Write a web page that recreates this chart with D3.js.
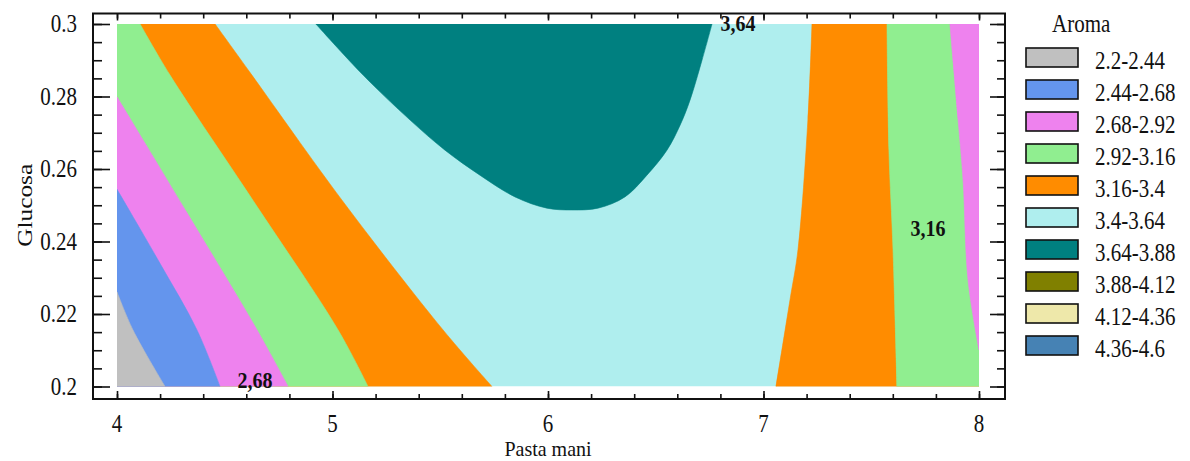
<!DOCTYPE html>
<html><head><meta charset="utf-8">
<script src="https://cdn.jsdelivr.net/npm/d3@7"></script>
<style>body{margin:0;background:#fff}svg{display:block}</style>
</head><body>
<svg id="chart" width="1190" height="461"></svg>
<script>
// ---------- data ----------
const pastaTicks = [4, 5, 6, 7, 8];
const glucosaTicks = [0.2, 0.22, 0.24, 0.26, 0.28, 0.3];
const glucosaTickLabels = ["0.2", "0.22", "0.24", "0.26", "0.28", "0.3"];
const levelLabels = ["2.2-2.44", "2.44-2.68", "2.68-2.92", "2.92-3.16", "3.16-3.4",
  "3.4-3.64", "3.64-3.88", "3.88-4.12", "4.12-4.36", "4.36-4.6"];
const levelColors = ["#c0c0c0", "#6495ed", "#ee82ee", "#90ee90", "#ff8c00",
  "#afeeee", "#008080", "#808000", "#eee8aa", "#4682b4"];

// contour lines: [Pasta mani, Glucosa]
const line244Left = [[4, 0.2261], [4.074, 0.2156], [4.223, 0.2]];
const line268Left = [[4, 0.2544], [4.2, 0.2339], [4.371, 0.2156], [4.478, 0.2]];
const line292Left = [[4, 0.2799], [4.325, 0.2479], [4.650, 0.2156], [4.794, 0.2]];
const line316Left = [[4.107, 0.3], [4.246, 0.2859], [4.636, 0.2509], [5.026, 0.2156], [5.165, 0.2]];
const line340Left = [[4.455, 0.3], [4.626, 0.2859], [5.044, 0.2514], [5.513, 0.2156], [5.740, 0.2]];
const line340Right = [[7.225, 0.3], [7.206, 0.2735], [7.160, 0.2377], [7.123, 0.2239], [7.058, 0.2]];
const line316Right = [[7.573, 0.3], [7.582, 0.2652], [7.601, 0.2377], [7.619, 0.2]];
const line292Right = [[7.865, 0.3], [7.903, 0.2735], [7.926, 0.2570], [7.949, 0.2294], [8, 0.2101]];
const line364 = [[4.923, 0.3], [5.142, 0.2859], [5.360, 0.2735], [5.522, 0.2652], [5.684, 0.2583],
  [5.847, 0.2523], [5.995, 0.2492], [6.111, 0.2487], [6.232, 0.2492], [6.357, 0.2523],
  [6.459, 0.2583], [6.552, 0.2652], [6.613, 0.2721], [6.659, 0.2790], [6.715, 0.2901], [6.761, 0.3]];

const contourLabelText = ["3,64", "2,68", "3,16"];
const contourLabelPos = [[6.882, 0.298], [4.640, 0.1997], [7.763, 0.2415]];

// ---------- drawing ----------
const svg = d3.select("#chart");
const FONT = "'Liberation Serif','Times New Roman',serif";
const SY = 1.15;
const frame = {left: 93, top: 13.5, right: 1005, bottom: 399};
const x = d3.scaleLinear().domain([4, 8]).range([117, 979]);
const y = d3.scaleLinear().domain([0.2, 0.3]).range([386.5, 24]);

svg.append("defs").append("clipPath").attr("id", "plotclip")
  .append("rect").attr("x", x(4)).attr("y", y(0.3))
  .attr("width", x(8) - x(4)).attr("height", y(0.2) - y(0.3));

const plot = svg.append("g").attr("clip-path", "url(#plotclip)");
const curve = d3.line().x(d => x(d[0])).y(d => y(d[1])).curve(d3.curveCatmullRom.alpha(0.5));
function region(pts, corners, color) {
  let d = curve(pts);
  corners.forEach(c => { d += "L" + x(c[0]) + "," + y(c[1]); });
  d += "Z";
  plot.append("path").attr("d", d).attr("fill", color).attr("stroke", color).attr("stroke-width", 0.6);
}
// base band 3.4-3.64
plot.append("rect").attr("x", x(4)).attr("y", y(0.3))
  .attr("width", x(8) - x(4)).attr("height", y(0.2) - y(0.3)).attr("fill", levelColors[5]);
// left side bands
region(line340Left, [[4, 0.2], [4, 0.3]], levelColors[4]);
region(line316Left, [[4, 0.2], [4, 0.3]], levelColors[3]);
region(line292Left, [[4, 0.2]], levelColors[2]);
region(line268Left, [[4, 0.2]], levelColors[1]);
region(line244Left, [[4, 0.2]], levelColors[0]);
// right side bands
region(line340Right, [[8, 0.2], [8, 0.3]], levelColors[4]);
region(line316Right, [[8, 0.2], [8, 0.3]], levelColors[3]);
region(line292Right, [[8, 0.3]], levelColors[2]);
// top peak band
region(line364, [], levelColors[6]);

// text helper
function txt(g, px, py, s, size, anchor, extra, sy) {
  return g.append("text")
    .attr("transform", `translate(${px},${py}) scale(1,${sy || SY})` + (extra || ""))
    .attr("text-anchor", anchor || "start")
    .attr("font-family", FONT).attr("font-size", size).attr("fill", "#111")
    .text(s);
}

// contour labels
contourLabelText.forEach((t, i) => {
  txt(svg, x(contourLabelPos[i][0]), y(contourLabelPos[i][1]), t, 20, "middle")
    .attr("font-weight", "bold").attr("fill", "#111");
});

// frame
svg.append("rect").attr("x", frame.left).attr("y", frame.top)
  .attr("width", frame.right - frame.left).attr("height", frame.bottom - frame.top)
  .attr("fill", "none").attr("stroke", "#111").attr("stroke-width", 2);

// ticks
const minorX = d3.range(4, 8.0001, 0.2);
const minorY = d3.range(0.2, 0.30001, 0.005);
function tickAxis(axisFn, scale, vals, size, tx, ty) {
  const a = axisFn(scale).tickValues(vals).tickSize(size).tickFormat("");
  const g = svg.append("g").attr("transform", `translate(${tx},${ty})`).call(a);
  g.select(".domain").remove();
  g.selectAll("line").attr("stroke", "#111").attr("stroke-width", 1.6);
}
tickAxis(d3.axisBottom, x, minorX, -5, 0, frame.bottom);
tickAxis(d3.axisBottom, x, pastaTicks, -8, 0, frame.bottom);
tickAxis(d3.axisTop, x, minorX, -5, 0, frame.top);
tickAxis(d3.axisTop, x, pastaTicks, -7, 0, frame.top);
tickAxis(d3.axisLeft, y, minorY, -9, frame.left, 0);
tickAxis(d3.axisLeft, y, glucosaTicks, -17, frame.left, 0);
tickAxis(d3.axisRight, y, minorY, -8, frame.right, 0);
tickAxis(d3.axisRight, y, glucosaTicks, -15, frame.right, 0);

// tick labels
pastaTicks.forEach(v => txt(svg, x(v), 432, String(v), 21, "middle"));
glucosaTicks.forEach((v, i) => txt(svg, 77, y(v) + 8, glucosaTickLabels[i], 21, "end"));

// axis titles
txt(svg, x(6), 456, "Pasta mani", 20, "middle", "", 1.05);
txt(svg, 32, (y(0.2) + y(0.3)) / 2, "Glucosa", 22, "middle", " rotate(-90)");

// legend
const leg = svg.append("g");
txt(leg, 1052, 32, "Aroma", 21, "start");
levelLabels.forEach((lab, i) => {
  const top = 48 + 32 * i;
  leg.append("rect").attr("x", 1026).attr("y", top).attr("width", 52).attr("height", 19)
    .attr("fill", levelColors[i]).attr("stroke", "#111").attr("stroke-width", 1.6);
  txt(leg, 1095, top + 21, lab, 21, "start");
});
</script>
</body></html>
